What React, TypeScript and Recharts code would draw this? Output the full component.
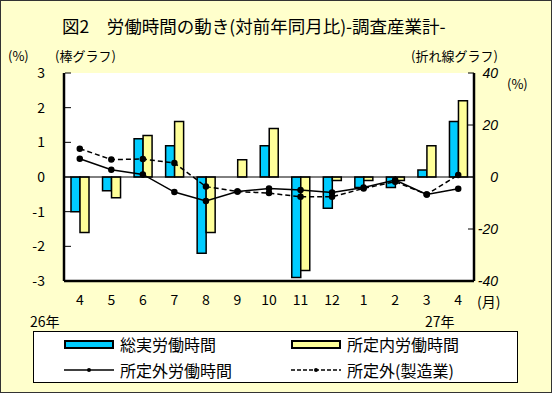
import React from 'react';
import { ComposedChart, Bar, Line, XAxis, YAxis, ReferenceLine } from 'recharts';

const months = ['4', '5', '6', '7', '8', '9', '10', '11', '12', '1', '2', '3', '4'];
const totalHours = [-1.0, -0.4, 1.1, 0.9, -2.2, 0, 0.9, -2.9, -0.9, -0.3, -0.3, 0.2, 1.6];
const scheduledHours = [-1.6, -0.6, 1.2, 1.6, -1.6, 0.5, 1.4, -2.7, -0.1, -0.1, -0.1, 0.9, 2.2];
const overtimeHours = [7.0, 2.8, 1.0, -5.8, -9.2, -5.6, -4.4, -5.0, -6.0, -4.0, -1.2, -6.7, -4.5];
const overtimeMfg = [10.9, 6.7, 6.9, 5.4, -3.7, -5.6, -6.2, -7.6, -7.6, -4.4, -1.8, -6.7, 0.8];
const leftTicks = [-3, -2, -1, 0, 1, 2, 3];
const rightTicks = [-40, -20, 0, 20, 40];

const seriesNames = ['総実労働時間', '所定内労働時間', '所定外労働時間', '所定外(製造業)'];
const BLUE = '#00CCFF';
const YELLOW = '#FFFF99';
const BG = '#FFFFCC';
const FONT = '"Noto Sans CJK JP", "Noto Sans", sans-serif';

const data = months.map((m, i) => ({
  idx: i,
  m,
  total: totalHours[i],
  scheduled: scheduledHours[i],
  overtime: overtimeHours[i],
  mfg: overtimeMfg[i],
}));

const LeftTick = (props: any) => {
  const { x, y, payload } = props;
  return (
    <g>
      <line x1={x + 9} x2={x + 15} y1={y} y2={y} stroke="#000" strokeWidth={1} />
      <text x={x - 11} y={y} dy={5} textAnchor="end" fontSize={14} fontFamily={FONT} fill="#000">
        {payload.value}
      </text>
    </g>
  );
};

const RightTick = (props: any) => {
  const { x, y, payload } = props;
  return (
    <g>
      <line x1={x - 14} x2={x - 8} y1={y} y2={y} stroke="#000" strokeWidth={1} />
      <text x={x + 16} y={y} dy={5} textAnchor="end" fontSize={14} fontStyle="italic" fontFamily='"Liberation Sans", Arial, sans-serif' fill="#000">
        {payload.value}
      </text>
    </g>
  );
};

const BottomTick = (props: any) => {
  const { x, y, payload } = props;
  return (
    <text x={x} y={y} dy={16} textAnchor="middle" fontSize={14} fontFamily={FONT} fill="#000">
      {months[payload.value]}
    </text>
  );
};

const txt = (s: string, left: number, top: number, size = 13, extra: any = {}) => (
  <div
    style={{
      position: 'absolute',
      left,
      top,
      fontSize: size,
      fontFamily: FONT,
      lineHeight: 1,
      whiteSpace: 'nowrap',
      color: '#000',
      ...extra,
    }}
  >
    {s}
  </div>
);

const Swatch = ({ kind }: { kind: number }) => {
  if (kind === 0 || kind === 1) {
    return (
      <div
        style={{
          width: 46,
          height: 5,
          background: kind === 0 ? BLUE : YELLOW,
          border: '2px solid #000',
        }}
      />
    );
  }
  return (
    <svg width={50} height={10}>
      <line x1={0} x2={50} y1={5} y2={5} stroke="#000" strokeWidth={1.5} strokeDasharray={kind === 3 ? '4 2' : undefined} />
      <circle cx={25} cy={5} r={2} fill="#000" />
    </svg>
  );
};

export default function App() {
  return (
    <div
      style={{
        position: 'absolute',
        left: 0,
        top: 0,
        width: 552,
        height: 393,
        background: BG,
        boxSizing: 'border-box',
        border: '1px solid #333',
        overflow: 'hidden',
      }}
    >
      <div style={{ position: 'absolute', left: -1, top: -1 }}>
        <ComposedChart
          width={552}
          height={393}
          data={data}
          margin={{ top: 73, right: 48, left: 34, bottom: 92 }}
          barGap={0}
          barCategoryGap="35%"
        >
          <rect x={64} y={73} width={410} height={208} fill="#fff" />
          <XAxis
            dataKey="idx"
            type="category"
            xAxisId="b"
            height={20}
            axisLine={{ stroke: '#000', strokeWidth: 2.5 }}
            tickLine={false}
            tick={<BottomTick />}
            interval={0}
          />
          <XAxis dataKey="idx" xAxisId="t" orientation="top" height={0} tick={false} tickLine={false} axisLine={{ stroke: '#000', strokeWidth: 2.5 }} />
          <YAxis
            yAxisId="l"
            domain={[-3, 3]}
            ticks={leftTicks}
            width={30}
            axisLine={{ stroke: '#000', strokeWidth: 2.5 }}
            tickLine={false}
            tick={<LeftTick />}
            interval={0}
          />
          <YAxis
            yAxisId="r"
            orientation="right"
            domain={[-40, 40]}
            ticks={rightTicks}
            width={30}
            axisLine={{ stroke: '#000', strokeWidth: 2.5 }}
            tickLine={false}
            tick={<RightTick />}
            interval={0}
          />
          <ReferenceLine yAxisId="l" xAxisId="b" y={0} stroke="#000" strokeWidth={1} />
          <Bar dataKey="total" name={seriesNames[0]} xAxisId="b" yAxisId="l" fill={BLUE} stroke="#000" strokeWidth={1.5} barSize={9} isAnimationActive={false} />
          <Bar dataKey="scheduled" name={seriesNames[1]} xAxisId="b" yAxisId="l" fill={YELLOW} stroke="#000" strokeWidth={1.5} barSize={9} isAnimationActive={false} />
          <Line dataKey="overtime" name={seriesNames[2]} xAxisId="b" yAxisId="r" stroke="#000" strokeWidth={1.5} dot={{ r: 2.5, fill: '#000', stroke: '#000' }} isAnimationActive={false} />
          <Line dataKey="mfg" name={seriesNames[3]} xAxisId="b" yAxisId="r" stroke="#000" strokeWidth={1.5} strokeDasharray="5 3" dot={{ r: 2.5, fill: '#000', stroke: '#000', strokeDasharray: '' }} isAnimationActive={false} />
        </ComposedChart>
      </div>
      {txt('図2\u3000労働時間の動き(対前年同月比)-調査産業計-', 61, 16, 17.5)}
      {txt('(%)', 7, 48, 13)}
      {txt('(棒グラフ)', 54, 48, 13)}
      {txt('(折れ線グラフ)', 410, 48, 13)}
      {txt('(%)', 506, 76, 13)}
      {txt('(月)', 476, 293, 14)}
      {txt('26年', 29, 313, 14)}
      {txt('27年', 424, 313, 14)}
      <div
        style={{
          position: 'absolute',
          left: 32,
          top: 330,
          width: 485,
          height: 52,
          boxSizing: 'border-box',
          background: '#fff',
          border: '1px solid #000',
        }}
      >
        {seriesNames.map((n, i) => (
          <div
            key={n}
            style={{
              position: 'absolute',
              left: i % 2 === 0 ? 30 : 257,
              top: i < 2 ? 4 : 30,
              display: 'flex',
              alignItems: 'center',
              gap: 6,
              fontSize: 16,
              fontFamily: FONT,
              lineHeight: 1,
              whiteSpace: 'nowrap',
            }}
          >
            <Swatch kind={i} />
            <span>{n}</span>
          </div>
        ))}
      </div>
    </div>
  );
}
